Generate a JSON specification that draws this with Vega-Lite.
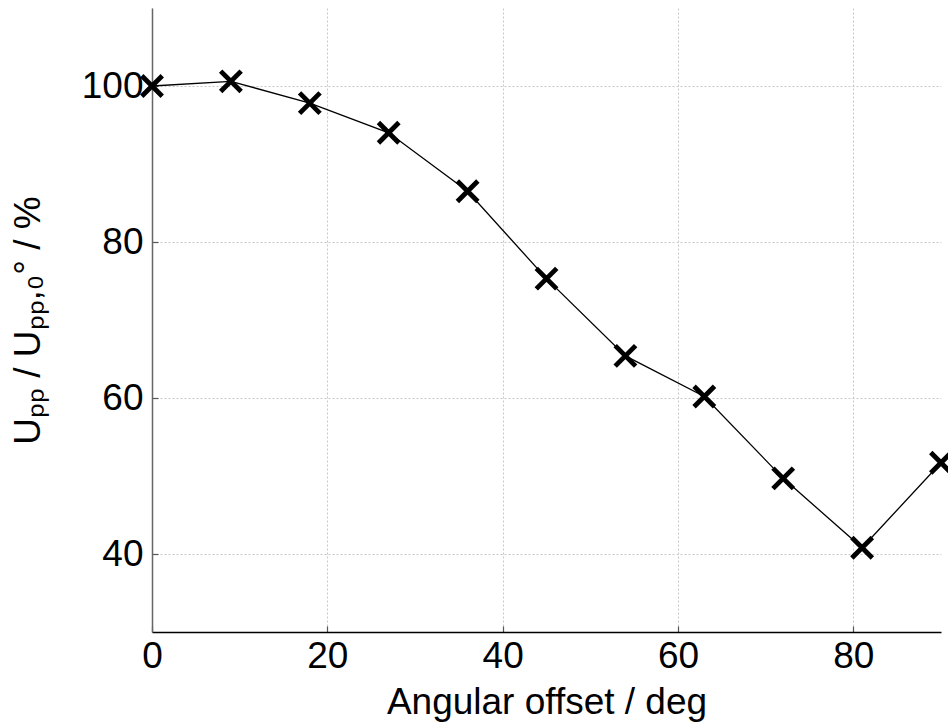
{
  "$schema": "https://vega.github.io/schema/vega-lite/v6.json",
  "width": 789,
  "height": 624,
  "autosize": "none",
  "padding": {"left": 152, "top": 8, "right": 7, "bottom": 91},
  "background": "white",
  "config": {
    "view": {"stroke": null},
    "font": "Liberation Sans",
    "axis": {
      "labelFont": "Liberation Sans",
      "titleFont": "Liberation Sans",
      "labelFontSize": 37,
      "titleFontSize": 37,
      "labelColor": "black",
      "titleColor": "black",
      "titleFontWeight": "normal",
      "labelFlush": false,
      "gridColor": "#c8c8c8",
      "gridDash": [2, 2],
      "gridWidth": 1,
      "tickSize": -6,
      "tickColor": "#555555",
      "tickWidth": 1.2
    }
  },
  "data": {
    "values": [
      {"angle": 0, "ratio": 100.0},
      {"angle": 9, "ratio": 100.6},
      {"angle": 18, "ratio": 97.8},
      {"angle": 27, "ratio": 94.0},
      {"angle": 36, "ratio": 86.5},
      {"angle": 45, "ratio": 75.3},
      {"angle": 54, "ratio": 65.4},
      {"angle": 63, "ratio": 60.2},
      {"angle": 72, "ratio": 49.7},
      {"angle": 81, "ratio": 40.8},
      {"angle": 90, "ratio": 51.7}
    ]
  },
  "encoding": {
    "x": {
      "field": "angle",
      "type": "quantitative",
      "scale": {"domain": [0, 90], "nice": false, "zero": false},
      "axis": {
        "title": "Angular offset / deg",
        "values": [0, 20, 40, 60, 80],
        "domainColor": "black",
        "domainWidth": 1.5,
        "labelPadding": 12,
        "titlePadding": 10
      }
    },
    "y": {
      "field": "ratio",
      "type": "quantitative",
      "scale": {"domain": [30, 110], "nice": false, "zero": false},
      "axis": {
        "title": "Uₚₚ / Uₚₚ,₀° / %",
        "values": [40, 60, 80, 100],
        "domainColor": "#666666",
        "domainWidth": 1.5,
        "labelPadding": 15,
        "titlePadding": 34
      }
    }
  },
  "layer": [
    {
      "mark": {"type": "line", "color": "black", "strokeWidth": 1.3}
    },
    {
      "mark": {
        "type": "point",
        "shape": "M-1,-1L1,1M1,-1L-1,1",
        "filled": false,
        "stroke": "black",
        "strokeWidth": 4.8,
        "size": 420,
        "opacity": 1
      }
    }
  ]
}
